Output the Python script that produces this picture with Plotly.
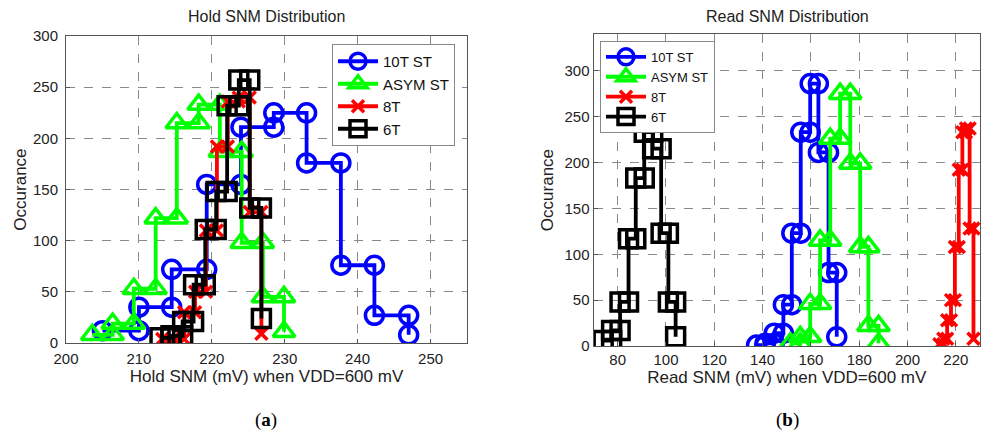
import plotly.graph_objects as go

# ---------------- data (histogram bins: left edge x, count y) ----------------
series_names = ["10T ST", "ASYM ST", "8T", "6T"]

# (a) Hold SNM
hold_10t_x = [205.0, 210.0, 214.5, 219.3, 224.0, 228.5, 233.0, 237.7, 242.3, 247.0]
hold_10t_y = [12, 35, 72, 155, 211, 225, 176, 76, 27, 8]
hold_asym_x = [203.6, 206.4, 209.3, 212.3, 215.2, 218.2, 221.1, 224.1, 227.0, 229.9]
hold_asym_y = [8, 19, 53, 122, 215, 233, 187, 98, 45, 11]
hold_8t_x = [213.2, 214.7, 216.2, 217.7, 219.2, 220.7, 222.2, 223.7, 225.2, 226.8]
hold_8t_y = [4, 4, 30, 50, 110, 192, 236, 240, 128, 9]
hold_6t_x = [212.9, 214.4, 216.0, 217.5, 219.1, 220.6, 222.1, 223.7, 225.2, 226.8]
hold_6t_y = [5, 7, 21, 57, 111, 148, 232, 257, 132, 24]

# (b) Read SNM
read_10t_x = [137.5, 141.0, 144.8, 148.6, 152.1, 155.8, 159.7, 163.1, 167.3, 170.7]
read_10t_y = [1, 3, 14, 45, 123, 233, 286, 211, 80, 10]
read_asym_x = [151.5, 155.6, 159.7, 163.8, 168.0, 172.1, 176.3, 180.4, 183.8, 188.0]
read_asym_y = [3, 10, 46, 115, 226, 275, 199, 108, 22, 3]
read_8t_x = [213.2, 214.8, 216.4, 218.0, 219.6, 221.2, 222.7, 224.2, 225.7, 227.3]
read_8t_y = [2, 8, 28, 50, 108, 192, 233, 237, 128, 8]
read_6t_x = [74.0, 77.5, 81.0, 84.5, 87.5, 91.0, 94.5, 98.0, 101.0, 104.0]
read_6t_y = [6, 17, 48, 117, 183, 233, 215, 123, 48, 10]

hold_ticks = [200, 210, 220, 230, 240, 250]
read_ticks = [80, 100, 120, 140, 160, 180, 200, 220]
y_ticks = [0, 50, 100, 150, 200, 250, 300]

colors = ["#0000FF", "#00FF00", "#FF0000", "#000000"]
symbols = ["circle-open", "triangle-up-open", "x-thin-open", "square-open"]
msizes = [18, 19, 12, 18]


def stairs(xs, ys):
    vx, vy = [xs[0]], [ys[0]]
    for i in range(1, len(xs)):
        vx += [xs[i], xs[i]]
        vy += [ys[i - 1], ys[i]]
    return vx, vy


fig = go.Figure()

hold = [(hold_10t_x, hold_10t_y), (hold_asym_x, hold_asym_y),
        (hold_8t_x, hold_8t_y), (hold_6t_x, hold_6t_y)]
read = [(read_10t_x, read_10t_y), (read_asym_x, read_asym_y),
        (read_8t_x, read_8t_y), (read_6t_x, read_6t_y)]

for data, xa, ya, lg in [(hold, "x", "y", "legend"), (read, "x2", "y2", "legend2")]:
    for i, (xs, ys) in enumerate(data):
        vx, vy = stairs(xs, ys)
        fig.add_trace(go.Scatter(
            x=vx, y=vy, mode="lines+markers", name=series_names[i],
            xaxis=xa, yaxis=ya, legend=lg,
            line=dict(color=colors[i], width=3.8),
            marker=dict(symbol=symbols[i], size=msizes[i], color=colors[i],
                        line=dict(color=colors[i], width=3.5)),
        ))

font_family = "Liberation Sans, Arial, sans-serif"
axis_common = dict(showgrid=True, gridcolor="#8a8a8a", griddash="dash", gridwidth=1,
                   showline=True, linecolor="#555555", linewidth=1, mirror=True,
                   ticks="inside", ticklen=4, tickcolor="#555555", zeroline=False,
                   automargin=False,
                   tickfont=dict(family=font_family, size=15, color="#222222"))

fig.update_layout(
    width=1000, height=440,
    margin=dict(l=0, r=0, t=0, b=0),
    paper_bgcolor="white", plot_bgcolor="white",
    font=dict(family=font_family, color="#222222"),
    xaxis=dict(domain=[0.066, 0.467], range=[200, 255], tickvals=hold_ticks,
               ticklabelstandoff=2,
               title=dict(text="Hold SNM (mV) when VDD=600 mV", font=dict(size=17), standoff=2),
               anchor="y", **axis_common),
    yaxis=dict(domain=[0.2205, 0.918], range=[0, 300], tickvals=y_ticks,
               ticklabelstandoff=4,
               title=dict(text="Occurance", font=dict(size=17), standoff=2),
               anchor="x", **axis_common),
    xaxis2=dict(domain=[0.5935, 0.98], range=[70, 230], tickvals=read_ticks,
                title=dict(text="Read SNM (mV) when VDD=600 mV", font=dict(size=17), standoff=4),
                anchor="y2", **axis_common),
    yaxis2=dict(domain=[0.2136, 0.9227], range=[0, 340], tickvals=y_ticks,
                title=dict(text="Occurance", font=dict(size=17), standoff=6),
                anchor="x2", **axis_common),
    legend=dict(x=0.332, y=0.9, xanchor="left", yanchor="top",
                bgcolor="white", bordercolor="#888888", borderwidth=1,
                font=dict(size=15, family=font_family, color="#111111"),
                tracegroupgap=0, itemwidth=40),
    legend2=dict(x=0.6, y=0.907, xanchor="left", yanchor="top",
                 bgcolor="white", bordercolor="#888888", borderwidth=1,
                 font=dict(size=13, family=font_family, color="#111111"),
                 tracegroupgap=0, itemwidth=40),
    annotations=[
        dict(text="Hold SNM Distribution", x=0.266, y=0.962, xref="paper", yref="paper",
             xanchor="center", yanchor="middle",
             showarrow=False, font=dict(size=16, family=font_family, color="#222222")),
        dict(text="Read SNM Distribution", x=0.787, y=0.962, xref="paper", yref="paper",
             xanchor="center", yanchor="middle",
             showarrow=False, font=dict(size=16, family=font_family, color="#222222")),
        dict(text="(<b>a</b>)", x=0.266, y=0.045, xref="paper", yref="paper",
             xanchor="center", yanchor="middle",
             showarrow=False, font=dict(size=19, family="Liberation Serif, Times New Roman, serif", color="#000000")),
        dict(text="(<b>b</b>)", x=0.787, y=0.045, xref="paper", yref="paper",
             xanchor="center", yanchor="middle",
             showarrow=False, font=dict(size=19, family="Liberation Serif, Times New Roman, serif", color="#000000")),
    ],
)

fig.write_html("out.html", config={"displayModeBar": False},
               post_script="document.body.style.margin='0';document.body.style.padding='0';")
